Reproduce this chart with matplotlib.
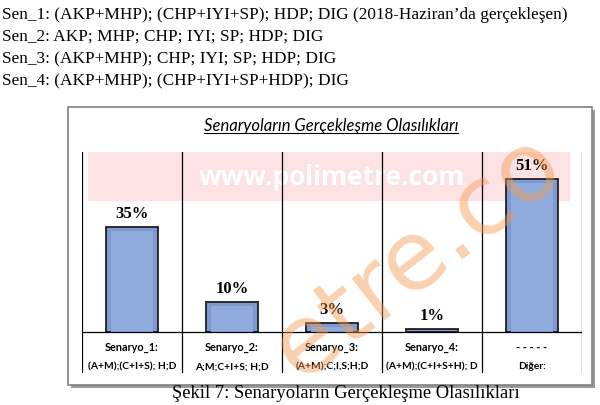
import matplotlib
matplotlib.use('Agg')
import matplotlib.pyplot as plt
from matplotlib.patches import Rectangle
from matplotlib.lines import Line2D

# Veriler
ust_satirlar = [
    "Sen_1: (AKP+MHP); (CHP+IYI+SP); HDP; DIG (2018-Haziran\u2019da gerçekleşen)",
    "Sen_2: AKP; MHP; CHP; IYI; SP; HDP; DIG",
    "Sen_3: (AKP+MHP); CHP; IYI; SP; HDP; DIG",
    "Sen_4: (AKP+MHP); (CHP+IYI+SP+HDP); DIG",
]
senaryolar = ["Senaryo_1:", "Senaryo_2:", "Senaryo_3:", "Senaryo_4:", "- - - - -"]
aciklamalar = ["(A+M);(C+I+S); H;D", "A;M;C+I+S; H;D", "(A+M);C;I,S;H;D",
               "(A+M);(C+I+S+H); D", "Diğer:"]
olasiliklar = [35, 10, 3, 1, 51]

W, H = 600, 405
fig = plt.figure(figsize=(6, 4.05), dpi=100)

def fx(px):
    return px / W

def fy(py):
    return 1 - py / H

# Ust metin satirlari
for i, satir in enumerate(ust_satirlar):
    fig.text(fx(2), fy(15 + 22 * i), satir, family='Liberation Serif',
             fontsize=12.4, va='center', ha='left', color='black')

# Grafik kutusu ve golgesi
fig.patches.append(Rectangle((fx(71), fy(388)), fx(524), 278 / H, transform=fig.transFigure,
                             facecolor='#9a9a9a', edgecolor='none', zorder=0))
fig.patches.append(Rectangle((fx(68), fy(385)), fx(524), 278 / H, transform=fig.transFigure,
                             facecolor='white', edgecolor='#808080', lw=1.2, zorder=0))

# Baslik (italik, alti cizili)
baslik = fig.text(fx(331), fy(126), "Senaryoların Gerçekleşme Olasılıkları",
                  family='Lato', style='italic', fontsize=12, ha='center', va='center')

ax = fig.add_axes([fx(82), fy(373), fx(500), 221 / H])
ax.set_zorder(5)
ax.set_xlim(-0.5, 4.5)
ax.set_ylim(-13.6, 60)
ax.axis('off')

# Filigran bandi
ax.add_patch(Rectangle((-0.44, 43.7), 4.82, 16.3, facecolor='#fde2e3', edgecolor='none', zorder=0))
ax.text(2.0, 51.5, "www.polimetre.com", color='white', fontsize=19, fontweight='bold',
        family='Open Sans', ha='center', va='center', zorder=1)

x = list(range(len(olasiliklar)))
# cubuklar: koyu kenar + ic kabartma
ax.bar(x, olasiliklar, width=0.52, color='#7d99cf', edgecolor='#1e1e1e', lw=1.3, zorder=3)
ic_yukseklik = [max(v - 1.4, 0) for v in olasiliklar]
ax.bar(x, ic_yukseklik, width=0.42, color='#8fabdd', edgecolor='none', zorder=3.5)
for xi, v in zip(x, olasiliklar):
    ax.text(xi, v + 1.6, f"{v}%", ha='center', va='bottom', family='Liberation Serif',
            fontweight='bold', fontsize=12, zorder=4)

# Tablo cizgileri
for b in range(len(olasiliklar) + 1):
    ax.axvline(b - 0.5, color='black', lw=0.9, zorder=2)
ax.axhline(0, color='black', lw=0.9, zorder=4)

for xi, s, a in zip(x, senaryolar, aciklamalar):
    ax.text(xi, -5.2, s, ha='center', va='center', family='Lato', fontweight='bold', fontsize=7.8)
    ax.text(xi, -11.5, a, ha='center', va='center', family='Lato', fontweight='bold', fontsize=7.4)

# Turuncu capraz filigran
fig.text(fx(300), fy(382), "etre.co", color='#f29a50', alpha=0.45, fontsize=70,
         family='DejaVu Sans', rotation=38, ha='left', va='baseline', rotation_mode='anchor',
         zorder=10)

# Alt yazi
fig.text(fx(346), fy(394), "Şekil 7: Senaryoların Gerçekleşme Olasılıkları",
         family='Liberation Serif', fontsize=13.4, ha='center', va='center')

# Baslik alt cizgisi
fig.canvas.draw()
bb = baslik.get_window_extent()
fig.lines.append(Line2D([bb.x0, bb.x1], [bb.y0 + 1, bb.y0 + 1], transform=None,
                        color='black', lw=0.8))

plt.savefig('out.png', dpi=100)
plt.close()
